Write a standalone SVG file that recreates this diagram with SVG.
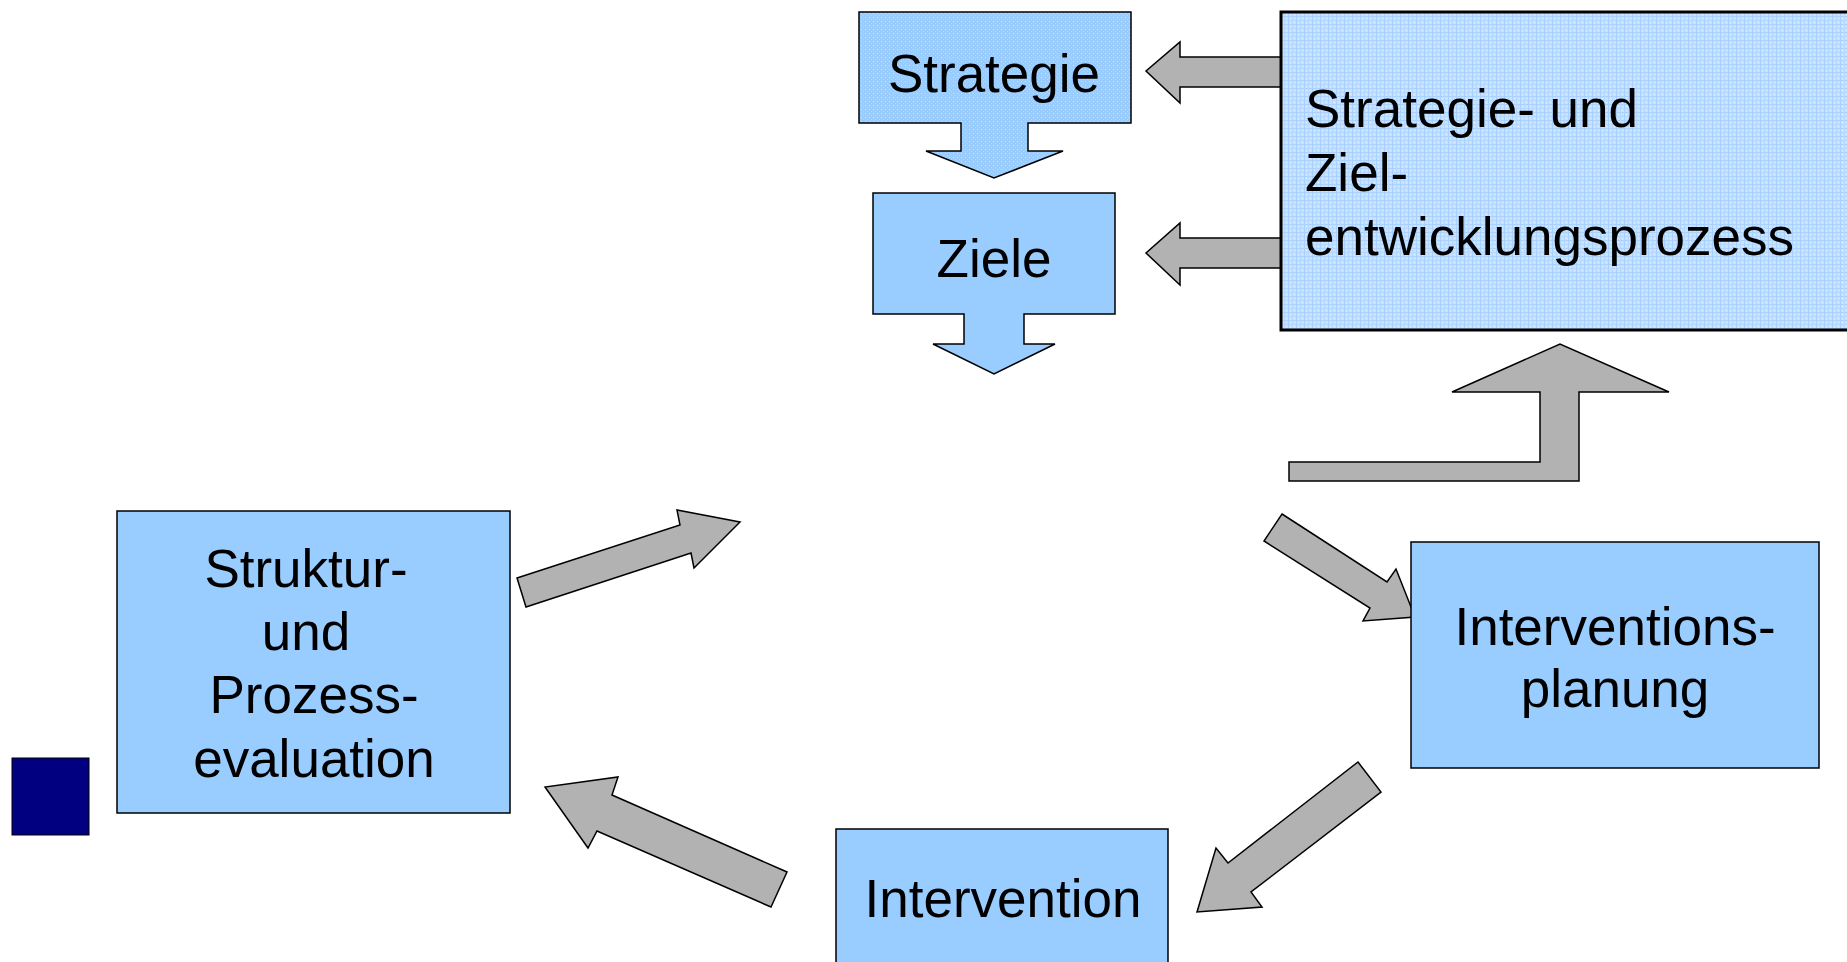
<svg xmlns="http://www.w3.org/2000/svg" width="1847" height="962" viewBox="0 0 1847 962">
<defs>
<pattern id="dots" width="4" height="4" patternUnits="userSpaceOnUse">
<rect width="4" height="4" fill="#99ccff"/>
<rect x="1" y="1" width="1" height="1" fill="#c2e0ff"/>
<rect x="3" y="3" width="1" height="1" fill="#b0d6ff"/>
</pattern>
<pattern id="grid" width="8" height="8" patternUnits="userSpaceOnUse">
<rect width="8" height="8" fill="#c6e2ff"/>
<rect x="0" y="0" width="8" height="1" fill="#a9d1ff"/>
<rect x="0" y="4" width="8" height="1" fill="#b4d8ff"/>
<rect x="0" y="0" width="1" height="8" fill="#a9d1ff"/>
<rect x="4" y="0" width="1" height="8" fill="#b4d8ff"/>
<rect x="2" y="2" width="1" height="1" fill="#e0efff"/>
<rect x="6" y="6" width="1" height="1" fill="#e0efff"/>
</pattern>
</defs>
<style>
.box{fill:#99ccff;stroke:#000;stroke-width:1.5}
.arr{fill:#b2b2b2;stroke:#000;stroke-width:1.5;stroke-linejoin:miter}
.t{font-family:"Liberation Sans",Arial,sans-serif;font-size:53px;fill:#000}
.c{text-anchor:middle}
</style>
<rect width="1847" height="962" fill="#fff"/>

<g id="connectors">
<path class="arr" d="M1282,57 L1180,57 L1180,42 L1146,71 L1180,103 L1180,87 L1282,87 Z"/>
<path class="arr" d="M1282,238 L1180,238 L1180,223 L1146,253 L1180,285 L1180,268 L1282,268 Z"/>
<path class="arr" d="M1289,462 L1540,462 L1540,392 L1452,392 L1560,344 L1669,392 L1579,392 L1579,481 L1289,481 Z"/>
<path class="arr" d="M517,578 L680,525 L677,510 L740,522 L694,568 L691,553 L526,607 Z"/>
<path class="arr" d="M1282,514 L1387,582 L1396,569 L1415,617 L1363,621 L1370,608 L1264,541 Z"/>
<path class="arr" d="M1358,762 L1381,792 L1251,892 L1262,907 L1197,912 L1216,848 L1228,863 Z"/>
<path class="arr" d="M787,872 L771,907 L597,831 L588,848 L545,787 L618,777 L612,795 Z"/>
</g>

<g id="strategie">
<path d="M859,12 L1131,12 L1131,123 L1028,123 L1028,151 L1063,151 L994,178 L926,151 L961,151 L961,123 L859,123 Z" fill="url(#dots)" stroke="#000" stroke-width="1.5"/>
<text class="t c" x="994" y="92">Strategie</text>
</g>

<g id="ziele">
<path class="box" d="M873,193 L1115,193 L1115,314 L1024,314 L1024,344 L1055,344 L994,374 L933,344 L964,344 L964,314 L873,314 Z"/>
<text class="t c" x="994" y="277">Ziele</text>
</g>

<g id="zielentwicklung">
<rect x="1281" y="12" width="575" height="318" fill="url(#grid)" stroke="#000" stroke-width="3"/>
<text class="t" x="1305" y="127">Strategie- und</text>
<text class="t" x="1305" y="191">Ziel-</text>
<text class="t" x="1305" y="255">entwicklungsprozess</text>
</g>

<g id="interventionsplanung">
<rect class="box" x="1411" y="542" width="408" height="226"/>
<text class="t c" x="1615" y="645">Interventions-</text>
<text class="t c" x="1615" y="707">planung</text>
</g>

<g id="intervention">
<rect class="box" x="836" y="829" width="332" height="140"/>
<text class="t c" x="1003" y="917">Intervention</text>
</g>

<g id="evaluation">
<rect class="box" x="117" y="511" width="393" height="302"/>
<text class="t c" x="306" y="587">Struktur-</text>
<text class="t c" x="306" y="650">und</text>
<text class="t c" x="314" y="713">Prozess-</text>
<text class="t c" x="314" y="777">evaluation</text>
</g>

<g id="marker-square">
<rect x="12" y="758" width="77" height="77" fill="#000080" stroke="#000" stroke-width="1"/>
</g>
</svg>
